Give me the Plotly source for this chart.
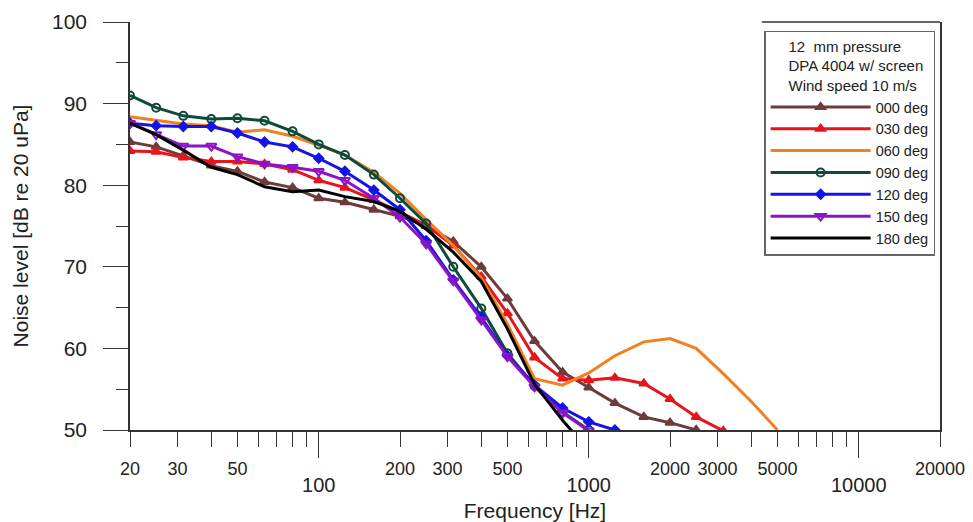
import plotly.graph_objects as go

# third-octave band centre frequencies [Hz]
freq_hz = [20, 25, 31.5, 40, 50, 63, 80, 100, 125, 160, 200, 250, 315, 400,
           500, 630, 800, 1000, 1250, 1600, 2000, 2500, 3150, 4000, 5000]

deg_000 = [85.3, 84.7, 83.6, 82.4, 81.7, 80.4, 79.7, 78.4, 77.9, 77.0, 76.2, 75.0,
           73.1, 70.0, 66.1, 60.9, 57.1, 55.2, 53.3, 51.6, 50.9, 50.0]
deg_030 = [84.2, 84.1, 83.4, 82.9, 82.9, 82.6, 81.9, 80.6, 79.7, 78.2, 76.7, 75.1,
           72.6, 68.8, 64.3, 58.9, 56.3, 56.1, 56.4, 55.7, 53.8, 51.6, 49.9]
deg_060 = [88.4, 88.0, 87.5, 87.3, 86.5, 86.8, 86.0, 84.9, 83.7, 81.6, 79.0, 75.8,
           72.6, 68.6, 63.0, 56.3, 55.5, 57.0, 59.1, 60.8, 61.2, 60.0, 56.9, 53.5, 50.0]
deg_090 = [91.0, 89.5, 88.5, 88.1, 88.2, 87.9, 86.6, 85.0, 83.7, 81.3, 78.4, 75.3,
           70.0, 64.9, 59.4, 55.4, 52.2, 50.0]
deg_120 = [87.6, 87.3, 87.2, 87.2, 86.4, 85.3, 84.7, 83.3, 81.7, 79.4, 77.0, 73.2,
           68.4, 63.8, 59.1, 55.5, 52.7, 51.0, 50.0]
deg_150 = [87.6, 86.2, 84.8, 84.8, 83.5, 82.6, 82.2, 81.7, 80.6, 78.4, 76.1, 72.8,
           68.3, 63.5, 59.0, 55.3, 52.1, 49.9]
deg_180 = [87.6, 86.2, 84.3, 82.2, 81.3, 79.8, 79.2, 79.4, 78.6, 78.0, 76.8, 74.6,
           71.8, 68.2, 62.4, 55.6, 51.2, 47.5]

x_labels = [20, 30, 50, 200, 300, 500, 2000, 3000, 5000, 20000]
x_decades = [100, 1000, 10000]
x_minor = [40, 60, 70, 80, 90, 400, 600, 700, 800, 900, 4000, 6000, 7000, 8000, 9000]

series = [
    ("000 deg", deg_000, "#6E3B3B", "triangle-up", 8),
    ("030 deg", deg_030, "#E8141C", "triangle-up", 8),
    ("060 deg", deg_060, "#F08020", None, 0),
    ("090 deg", deg_090, "#0F4B3C", "circle-open", 8),
    ("120 deg", deg_120, "#1414E6", "diamond", 7),
    ("150 deg", deg_150, "#8C14C8", "triangle-down-open", 9),
    ("180 deg", deg_180, "#000000", None, 0),
]

fig = go.Figure()
for name, vals, color, symbol, size in series:
    mode = "lines+markers" if symbol else "lines"
    # the last curve goes on the overlaid axis that carries the decade labels
    xa = "x2" if name == "180 deg" else "x"
    fig.add_trace(go.Scatter(
        x=freq_hz[:len(vals)], y=vals, name=name, mode=mode, xaxis=xa,
        line=dict(color=color, width=3),
        marker=dict(symbol=symbol or "circle", size=size, color=color,
                    line=dict(color=color, width=2)),
    ))

font = "Liberation Sans, Arial, sans-serif"
xr = [1.30103, 4.30103]
pad = "&nbsp;" * 5

# page body has an 8px margin, so the figure is a bit smaller than the window
fig.update_layout(
    width=965, height=514,
    margin=dict(l=122, r=33, t=14, b=92, autoexpand=False),
    paper_bgcolor="white", plot_bgcolor="white",
    font=dict(family=font, color="#222"),
    showlegend=True,
    legend=dict(
        x=0.994, y=0.978, xanchor="right", yanchor="top",
        bgcolor="white", bordercolor="#666", borderwidth=1.5,
        font=dict(size=14.5, color="#222"),
        title=dict(text=pad + "12  mm pressure<br>" + pad + "DPA 4004 w/ screen<br>"
                   + pad + "Wind speed 10 m/s",
                   font=dict(size=15, color="#222"), side="top"),
        tracegroupgap=0, itemwidth=100,
    ),
    xaxis=dict(
        type="log", range=xr, showgrid=False, zeroline=False, automargin=False,
        showline=True, linecolor="#333", linewidth=1.5,
        tickmode="array", tickvals=x_labels, ticktext=[str(v) for v in x_labels],
        ticks="outside", ticklen=15, tickcolor="#333", tickwidth=1,
        tickfont=dict(size=18), ticklabelstandoff=7,
        minor=dict(tickmode="array", tickvals=x_minor, ticks="outside",
                   ticklen=15, tickcolor="#333", tickwidth=1, showgrid=False),
        title=dict(text="Frequency [Hz]", font=dict(size=21), standoff=26),
    ),
    xaxis2=dict(
        type="log", range=xr, overlaying="x", anchor="y", side="bottom",
        showgrid=False, zeroline=False, showline=False, automargin=False,
        tickmode="array", tickvals=x_decades, ticktext=[str(v) for v in x_decades],
        ticks="outside", ticklen=27, tickcolor="#333", tickwidth=1,
        tickfont=dict(size=20), ticklabelstandoff=10,
    ),
    yaxis=dict(
        range=[50, 100], showgrid=False, zeroline=False, automargin=False,
        showline=True, linecolor="#333", linewidth=1.5, mirror=True,
        tickmode="array", tickvals=[50, 60, 70, 80, 90, 100],
        ticks="outside", ticklen=25, tickcolor="#333", tickwidth=1,
        tickfont=dict(size=21), ticklabelstandoff=12,
        minor=dict(tickmode="array", tickvals=[55, 65, 75, 85, 95], ticks="outside",
                   ticklen=12, tickcolor="#333", tickwidth=1, showgrid=False),
        title=dict(text="Noise level [dB re 20 uPa]", font=dict(size=21), standoff=18),
    ),
)

# short piece of frame at the top right above the legend
fig.add_shape(type="line", xref="paper", yref="paper", x0=0.78, x1=1.0, y0=1, y1=1,
              line=dict(color="#333", width=1.5))

fig.write_html("out.html")
